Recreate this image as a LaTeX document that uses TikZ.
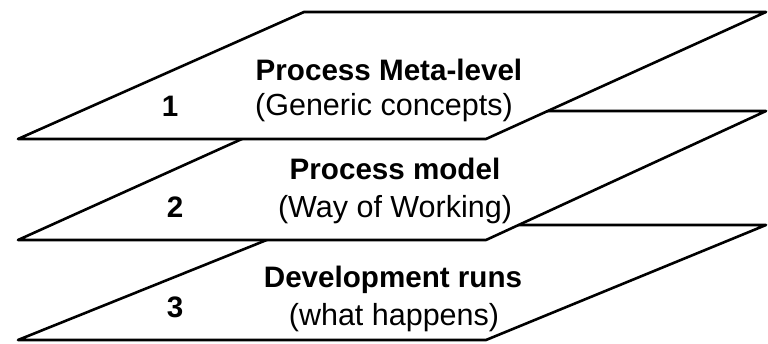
\documentclass[tikz,border=0pt]{standalone}
\usepackage{fontspec}
\setmainfont{Liberation Sans}
\begin{document}
\begin{tikzpicture}[x=1pt,y=-1pt,
  plane/.style={draw=black,fill=white,line width=2.6pt,line join=round},
  title/.style={anchor=base,inner sep=0pt,font=\fontsize{29.6}{34}\selectfont\bfseries},
  sub/.style={anchor=base,inner sep=0pt,font=\fontsize{30.5}{34}\selectfont},
  num/.style={anchor=base,inner sep=0pt,font=\fontsize{29.6}{34}\selectfont\bfseries}]
\useasboundingbox[fill=white] (0,0) rectangle (768,344);
% plane 3
\draw[plane] (304,225) -- (766,225) -- (486,340) -- (18,340) -- cycle;
% plane 2
\draw[plane] (304,111) -- (766,111) -- (486,240) -- (18,240) -- cycle;
% plane 1
\draw[plane] (304,12) -- (766,12) -- (486,139) -- (18,139) -- cycle;
% texts
\node[title] (t1) at (389,81) {Process Meta-level};
\node[sub] (s1) at (384,116) {(Generic concepts)};
\node[num] (n1) at (170,117) {1};
\node[title] (t2) at (395,180) {Process model};
\node[sub] (s2) at (395,218) {(Way of Working)};
\node[num] (n2) at (175,218) {2};
\node[title] (t3) at (393,288) {Development runs};
\node[sub] (s3) at (394,326) {(what happens)};
\node[num] (n3) at (175,318) {3};
\end{tikzpicture}
\end{document}
